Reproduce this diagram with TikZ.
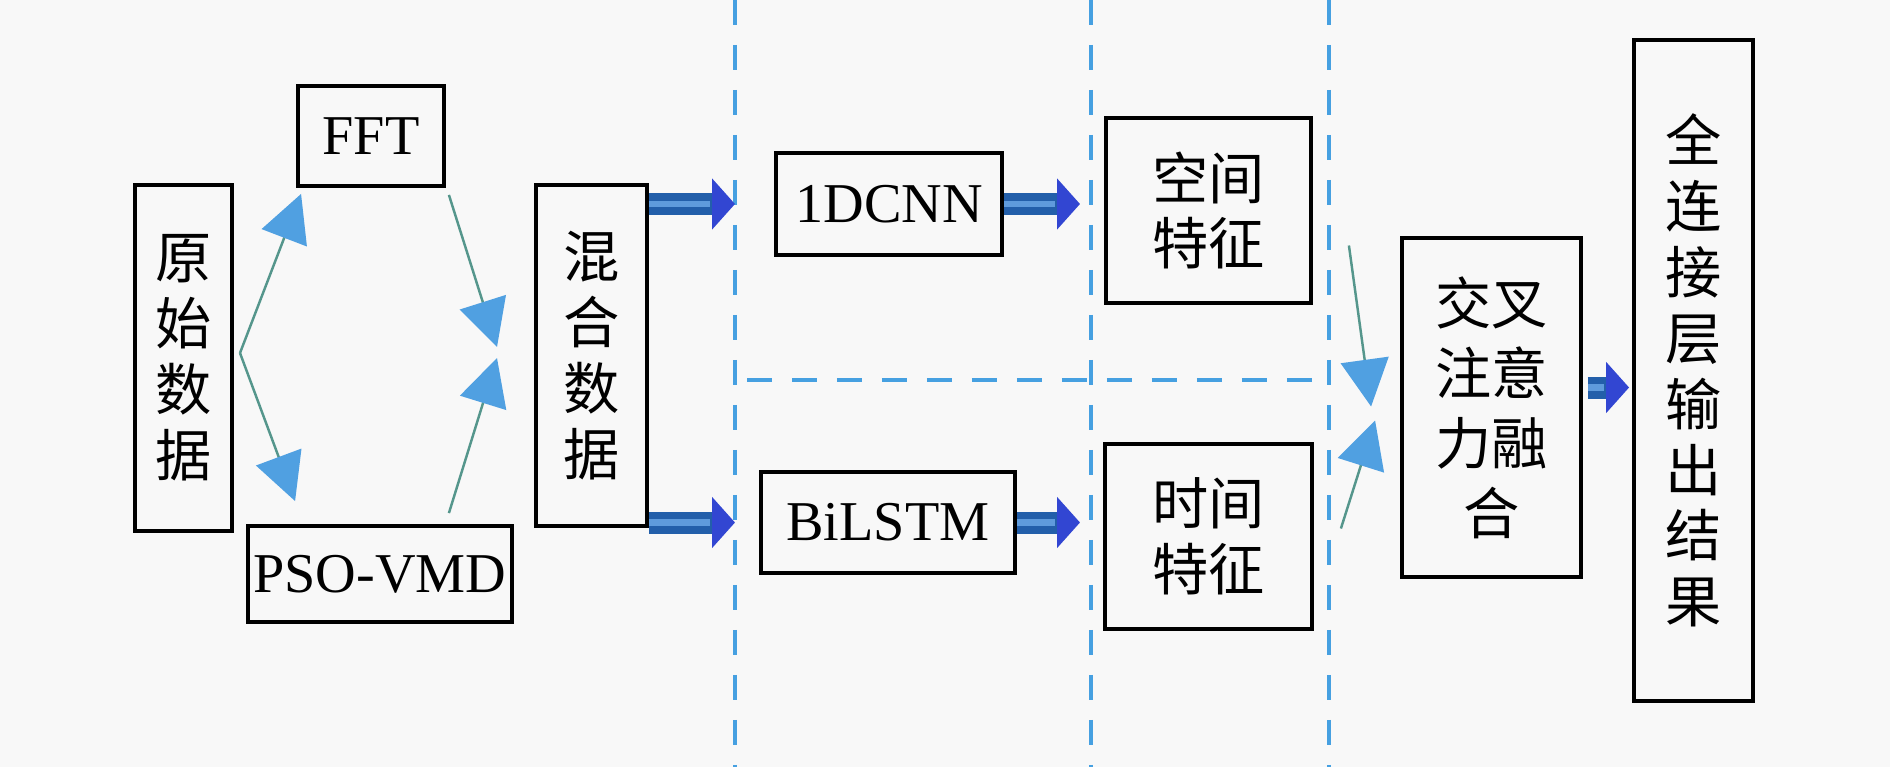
\documentclass[tikz,border=0pt]{standalone}
\usepackage{fontspec}
\setmainfont{Liberation Serif}
\newfontfamily\cjk{Noto Sans CJK SC}
\usetikzlibrary{arrows.meta,calc}

\definecolor{paper}{RGB}{248,248,248}
\definecolor{sepblue}{RGB}{70,160,225}
\definecolor{linkteal}{RGB}{85,150,140}
\definecolor{headblue}{RGB}{80,160,225}
\definecolor{flowblue}{RGB}{35,95,170}
\definecolor{flowshine}{RGB}{95,155,220}
\definecolor{tipblue}{RGB}{50,70,210}

\tikzset{
  box/.style={draw, line width=2.2pt, inner sep=0pt, align=center,
    font=\fontsize{32}{37.5}\selectfont},
  cjkbox/.style={box, font=\cjk\fontsize{32}{37.5}\selectfont},
  sepline/.style={draw=sepblue, line width=0.08cm, dash pattern=on 0.5cm off 0.4cm},
  thinarrow/.style={draw=linkteal, line width=1.4pt,
    -{Triangle[length=0.94cm, width=0.96cm, color=headblue]}},
  flowarrow/.style={draw=flowblue, line width=0.44cm,
    -{Triangle[length=0.46cm, width=1cm, color=tipblue]},
    postaction={draw=flowshine, line width=0.14cm, -, shorten >=0.5cm}}
}

\begin{document}
\begin{tikzpicture}[x=0.02cm, y=-0.02cm]
        \fill[paper] (0,0) rectangle (1890,767);
        \useasboundingbox (0,0) rectangle (1890,767);

        % Separators
        \foreach \n/\x in {1/735, 2/1091, 3/1329} {
            \coordinate (d\n) at (\x,0);
            \draw[sepline] (d\n) -- (\x,767);
        }
        \coordinate (mid) at (747,380);
        \draw[sepline] (mid) -- (d3 |- mid);

        % Nodes
        \node (raw) [cjkbox, minimum width=1.94cm, minimum height=6.92cm] at (183.5,358) {原\\始\\数\\据};
        \node (fft) [box, minimum width=2.92cm, minimum height=2cm] at (371,136) {FFT};
        \node (pso) [box, minimum width=5.28cm, minimum height=1.92cm] at (380,574) {PSO-VMD};
        \node (mix) [cjkbox, minimum width=2.22cm, minimum height=6.82cm] at (591.5,355.5) {混\\合\\数\\据};
        \node (cnn) [box, minimum width=4.52cm, minimum height=2.04cm] at (889,204) {1DCNN};
        \node (lstm) [box, minimum width=5.08cm, minimum height=2.02cm] at (888,522.5) {BiLSTM};
        \node (spat) [cjkbox, minimum width=4.1cm, minimum height=3.7cm] at (1208.5,210.5) {空间\\特征};
        \node (temp) [cjkbox, minimum width=4.14cm, minimum height=3.7cm] at (1208.5,536.5) {时间\\特征};
        \node (fuse) [cjkbox, minimum width=3.58cm, minimum height=6.78cm,
            font=\cjk\fontsize{32}{39.8}\selectfont] at (1491.5,407.5) {交叉\\注意\\力融\\合};
        \node (out) [cjkbox, minimum width=2.38cm, minimum height=13.22cm] at (1693.5,370.5) {全\\连\\接\\层\\输\\出\\结\\果};

        % Split and merge points
        \coordinate (split) at (240,353);
        \coordinate (joinA) at (497,347);
        \coordinate (joinB) at (497,358);

        % Thin arrows
        \draw[thinarrow] (split) -- ($(fft.south west)+(5,6)$);
        \draw[thinarrow] (split) -- ($(pso.north west)+(49,-23)$);
        \draw[thinarrow] ($(fft.south east)+(3,7)$) -- (joinA);
        \draw[thinarrow] ($(fft.south east |- pso.north)+(3,-11)$) -- (joinB);
        \draw[thinarrow] ($(spat.east)+(36,35)$) -- ($(fuse.west)+(-29,-1)$);
        \draw[thinarrow] ($(temp.east)+(27,-8)$) -- ($(fuse.west)+(-25,13)$);

        % Block arrows
        \draw[flowarrow] (mix.east |- cnn.west) -- (d1 |- cnn.west);
        \draw[flowarrow] (mix.east |- lstm.west) -- (d1 |- lstm.west);
        \draw[flowarrow] (cnn.east) -- ($(d2 |- cnn.east)+(-11,0)$);
        \draw[flowarrow] (lstm.east) -- ($(d2 |- lstm.east)+(-11,0)$);
        \draw[flowarrow] ($(fuse.east)+(5,-20)$) -- ($(out.west |- fuse.east)+(-3,-20)$);
\end{tikzpicture}
\end{document}
